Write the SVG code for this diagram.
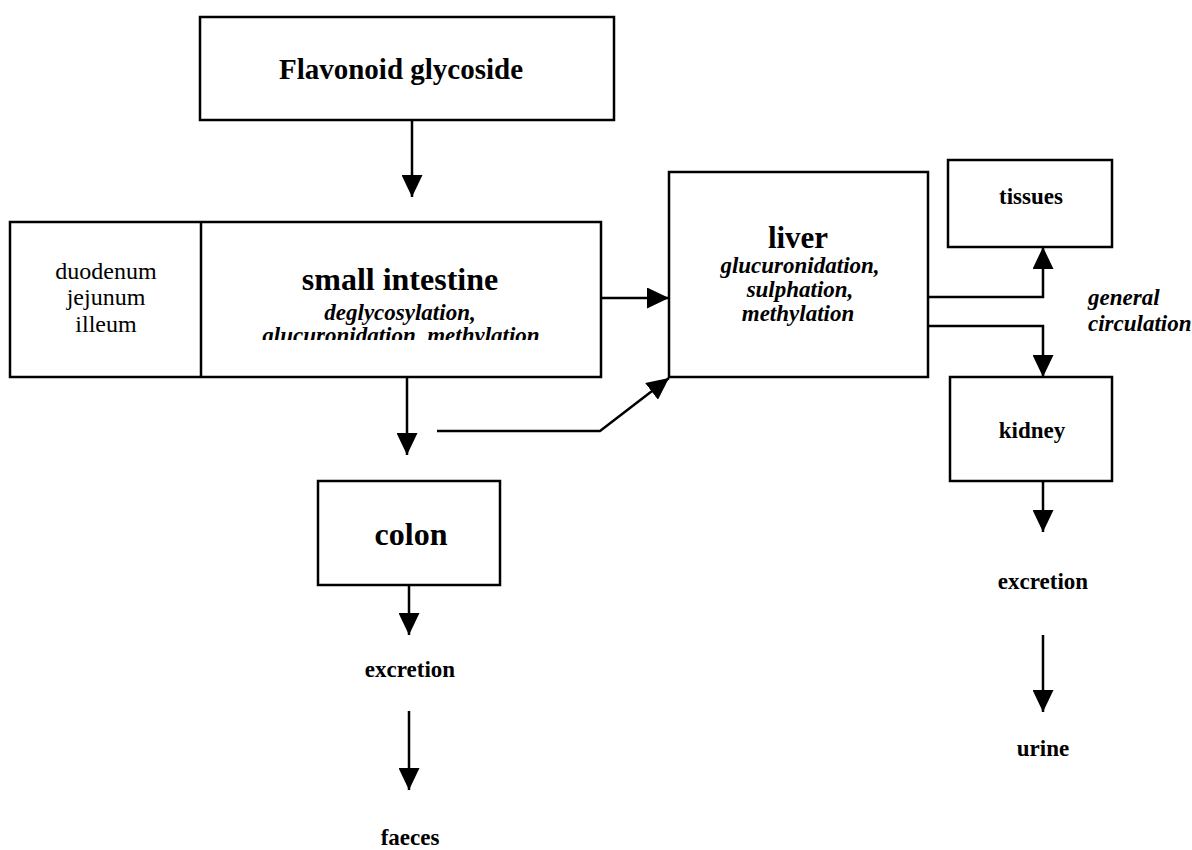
<svg xmlns="http://www.w3.org/2000/svg" width="1192" height="850" viewBox="0 0 1192 850">
<style>
.box{fill:#fff;stroke:#000;stroke-width:2.5}
.ln{fill:none;stroke:#000;stroke-width:2.5;marker-end:url(#ah)}
text{font-family:"Liberation Serif","Times New Roman",serif;fill:#000;text-anchor:middle}
.b{font-weight:bold}
.r{font-size:24px}
.lbl{font-weight:bold;font-size:23px}
.it{font-style:italic;font-weight:bold;font-size:23px}
</style>
<defs>
<marker id="ah" viewBox="0 0 22 21" refX="22" refY="10.5" markerWidth="22" markerHeight="21" orient="auto" markerUnits="userSpaceOnUse">
<path d="M0,0 L22,10.5 L0,21 z" fill="#000"/>
</marker>
<clipPath id="siclip"><rect x="202" y="223" width="398" height="117"/></clipPath>
</defs>
<rect width="1192" height="850" fill="#fff"/>
<g id="flavonoid">
<rect class="box" x="200" y="17" width="414" height="103"/>
<text class="b" x="401" y="79" font-size="29">Flavonoid glycoside</text>
</g>
<g id="small-intestine">
<rect class="box" x="10" y="222" width="591" height="155"/>
<line x1="201" y1="222" x2="201" y2="377" stroke="#000" stroke-width="2.5"/>
<text class="r" x="106" y="279">duodenum</text>
<text class="r" x="106" y="305">jejunum</text>
<text class="r" x="106" y="332">illeum</text>
<text class="b" x="400" y="290" font-size="32">small intestine</text>
<text class="it" x="400" y="320">deglycosylation,</text>
<text class="it" x="401" y="343" clip-path="url(#siclip)">glucuronidation, methylation</text>
</g>
<g id="liver">
<rect class="box" x="669" y="172" width="259" height="205"/>
<text class="b" x="798" y="248" font-size="31">liver</text>
<text class="it" x="800" y="273">glucuronidation,</text>
<text class="it" x="800" y="297">sulphation,</text>
<text class="it" x="798" y="321">methylation</text>
</g>
<g id="tissues">
<rect class="box" x="948" y="160" width="164" height="87"/>
<text class="lbl" x="1031" y="204" font-size="22">tissues</text>
</g>
<g id="kidney">
<rect class="box" x="950" y="377" width="162" height="104"/>
<text class="lbl" x="1032" y="438">kidney</text>
</g>
<g id="colon">
<rect class="box" x="318" y="481" width="182" height="104"/>
<text class="b" x="411" y="545" font-size="32">colon</text>
</g>
<g id="general-circulation">
<text class="it" x="1088" y="305" font-size="22" style="text-anchor:start">general</text>
<text class="it" x="1088" y="331" font-size="22" style="text-anchor:start">circulation</text>
</g>
<g id="excretion-faeces">
<text class="lbl" x="410" y="677">excretion</text>
<text class="lbl" x="410" y="845">faeces</text>
</g>
<g id="excretion-urine">
<text class="lbl" x="1043" y="589">excretion</text>
<text class="lbl" x="1043" y="756">urine</text>
</g>
<g id="connectors">
<path class="ln" d="M412,120 L412,197"/>
<path class="ln" d="M601,298 L669,298"/>
<path class="ln" d="M928,297 L1043,297 L1043,247"/>
<path class="ln" d="M928,326 L1043,326 L1043,377"/>
<path class="ln" d="M407,377 L407,455"/>
<path class="ln" d="M437,431 L600,431 L669,378"/>
<path class="ln" d="M409,585 L409,635"/>
<path class="ln" d="M409,711 L409,790"/>
<path class="ln" d="M1043,481 L1043,532"/>
<path class="ln" d="M1043,635 L1043,712"/>
</g>
</svg>
